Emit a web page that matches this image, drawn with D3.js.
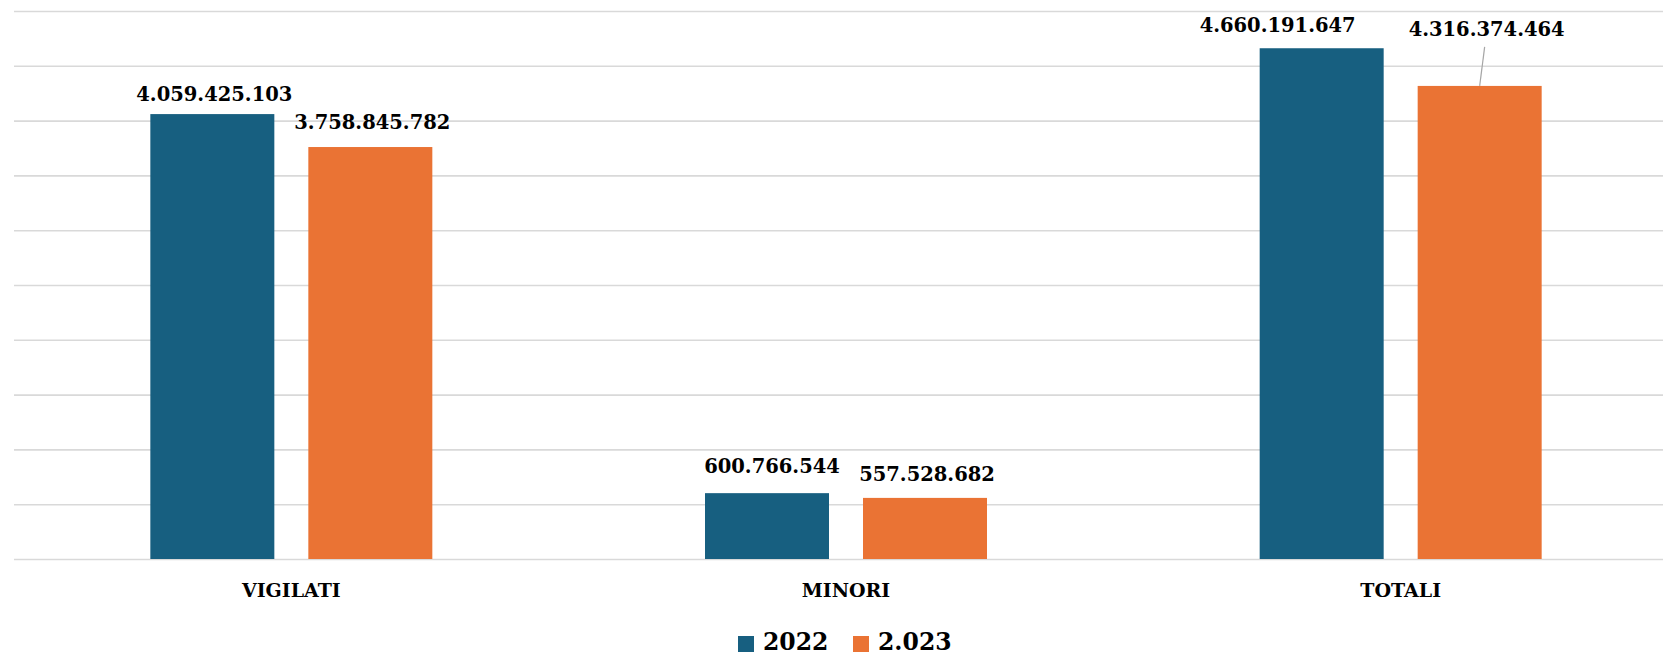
<!DOCTYPE html>
<html>
<head>
<meta charset="utf-8">
<script src="https://cdn.jsdelivr.net/npm/d3@7"></script>
<style>
  html, body { margin: 0; padding: 0; background: #fff; }
  svg { display: block; }
  text { font-family: "DejaVu Serif", "Liberation Serif", serif; font-weight: bold; fill: #000; }
</style>
</head>
<body>
<svg id="chart" width="1663" height="656"></svg>
<script>
const categories = ["VIGILATI", "MINORI", "TOTALI"];
const seriesNames = ["2022", "2.023"];
const values2022 = [4059425103, 600766544, 4660191647];
const values2023 = [3758845782, 557528682, 4316374464];
const yTicks = [0, 5e8, 1e9, 1.5e9, 2e9, 2.5e9, 3e9, 3.5e9, 4e9, 4.5e9, 5e9];

// label placement tweaks (dx, dy relative to bar centre / top), layout only
const labelLayout = [
  [{dx: 2, dy: -13}, {dx: 2, dy: -18}],
  [{dx: 5, dy: -20}, {dx: 2, dy: -17}],
  [{dx: -44, dy: -16}, {dx: 7, dy: -50, leader: true}]
];

const svg = d3.select("#chart");
const W = 1663, H = 656;
const margin = {left: 14, right: -15, top: 11, bottom: 97};

const x0 = d3.scaleBand()
  .domain(categories)
  .range([margin.left, W - margin.right])
  .paddingInner(0.4916)
  .paddingOuter(0.2458);
const x1 = d3.scaleBand()
  .domain(seriesNames)
  .range([0, x0.bandwidth()])
  .paddingInner(0.2152);
const y = d3.scaleLinear()
  .domain([0, 5e9])
  .range([H - margin.bottom, margin.top]);

const colors = d3.scaleOrdinal().domain(seriesNames).range(["#175f80", "#ea7334"]);

// gridlines
const grid = svg.append("g")
  .attr("transform", `translate(${margin.left},0)`)
  .call(d3.axisLeft(y).tickValues(yTicks).tickSize(-(W - margin.left - margin.right)).tickFormat(""));
grid.select(".domain").remove();
grid.selectAll("line").attr("stroke", "#d9d9d9").attr("stroke-width", 1.6);

const data = categories.map((c, i) => ({cat: c, vals: [values2022[i], values2023[i]]}));

const groups = svg.append("g").selectAll("g")
  .data(data).join("g")
  .attr("transform", d => `translate(${x0(d.cat)},0)`);

groups.selectAll("rect")
  .data(d => d.vals.map((v, j) => ({series: seriesNames[j], v})))
  .join("rect")
  .attr("x", d => x1(d.series))
  .attr("y", d => y(d.v))
  .attr("width", x1.bandwidth())
  .attr("height", d => y(0) - y(d.v))
  .attr("fill", d => colors(d.series));

const fmt = v => d3.format(",")(v).replace(/,/g, ".");

data.forEach((d, i) => {
  d.vals.forEach((v, j) => {
    const lay = labelLayout[i][j];
    const cx = x0(d.cat) + x1(seriesNames[j]) + x1.bandwidth() / 2;
    const top = y(v);
    if (lay.leader) {
      svg.append("line")
        .attr("x1", cx + 5).attr("y1", top + lay.dy + 11)
        .attr("x2", cx).attr("y2", top)
        .attr("stroke", "#a6a6a6").attr("stroke-width", 1.2);
    }
    svg.append("text")
      .attr("x", cx + lay.dx)
      .attr("y", top + lay.dy)
      .attr("text-anchor", "middle")
      .attr("font-size", 19.5)
      .text(fmt(v));
  });
});

// x axis category labels
svg.append("g").selectAll("text")
  .data(categories).join("text")
  .attr("x", d => x0(d) + x0.bandwidth() / 2)
  .attr("y", 597)
  .attr("text-anchor", "middle")
  .attr("font-size", 19)
  .text(d => d);

// legend
const legend = svg.append("g");
const legendItems = [{name: seriesNames[0], x: 738}, {name: seriesNames[1], x: 853}];
legendItems.forEach(it => {
  legend.append("rect")
    .attr("x", it.x).attr("y", 636)
    .attr("width", 16).attr("height", 16)
    .attr("fill", colors(it.name));
  legend.append("text")
    .attr("x", it.x + 25).attr("y", 650)
    .attr("font-size", 23.5)
    .text(it.name);
});
</script>
</body>
</html>
